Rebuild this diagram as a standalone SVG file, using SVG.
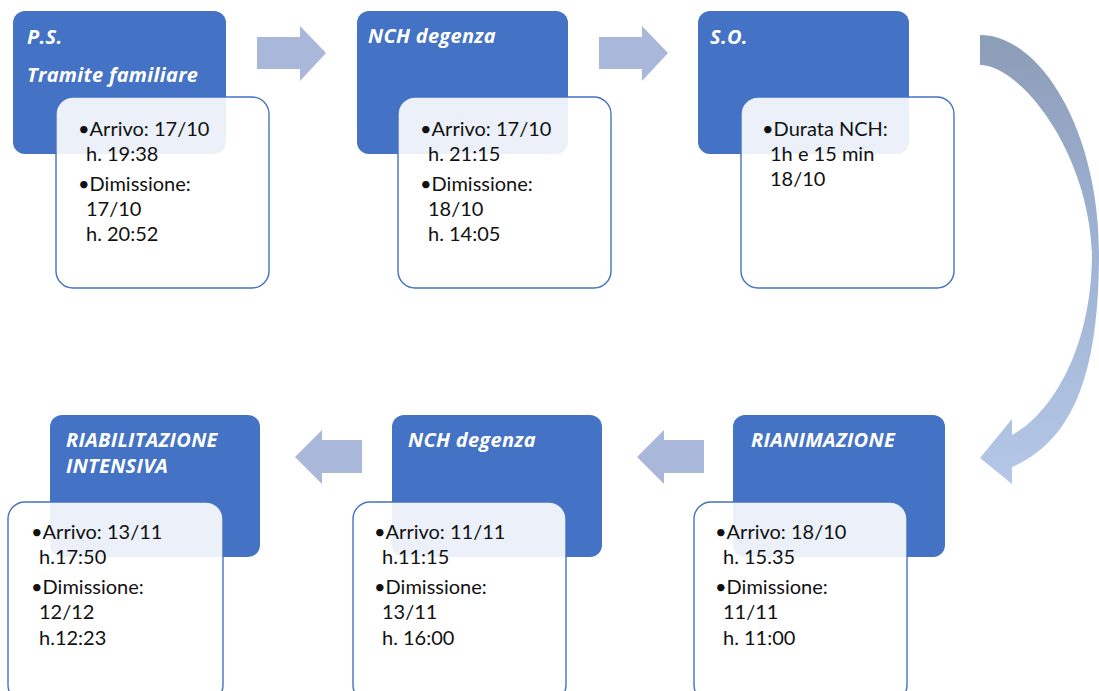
<svg xmlns="http://www.w3.org/2000/svg" width="1099" height="691" viewBox="0 0 1099 691">
<defs>
<style>
.blue{fill:#4472C4}
.card{fill:#fff;fill-opacity:0.9;stroke:#4472C4;stroke-width:1.4}
.title{font-family:"Open Sans",Lato,sans-serif;font-weight:bold;font-style:italic;fill:#fff;font-size:20px;letter-spacing:0.3px}
.body{font-family:Lato,"Open Sans",sans-serif;font-size:20px;fill:#111}
.arrow{fill:#A9B7DB}
</style>
<linearGradient id="cg" x1="0" y1="35" x2="0" y2="484" gradientUnits="userSpaceOnUse">
<stop offset="0" stop-color="#8C9DB7"/>
<stop offset="0.45" stop-color="#9DB1D2"/>
<stop offset="1" stop-color="#B4C7E7"/>
</linearGradient>
</defs>
<rect width="1099" height="691" fill="#fff"/>

<g id="connectors">
<path class="arrow" d="M257,37 H300 V26 L326,53 L300,81 V69 H257 Z"/>
<path class="arrow" d="M599,37 H642 V26 L668,53 L642,81 V69 H599 Z"/>
<path class="arrow" d="M362,440 H322 V430 L295,457 L322,484 V473 H362 Z"/>
<path class="arrow" d="M704,440 H664 V430 L637,457 L664,484 V473 H704 Z"/>
<path fill="url(#cg)" d="M980,35 C1040,35 1099,130 1099,253 C1099,370 1075,440 1012,467 L1012,484 L980,458 L1012,419 L1012,435 C1050,415 1092,350 1092,253 C1088,150 1020,65 980,65 Z"/>
</g>

<g id="node-ps">
<rect class="blue" x="13" y="11" width="213" height="143" rx="12"/>
<text class="title" x="27" y="44">P.S.</text>
<text class="title" x="27" y="82">Tramite familiare</text>
<rect class="card" x="56" y="97" width="213" height="191" rx="17"/>
<text class="body"><tspan x="78" y="136">•Arrivo: 17/10</tspan><tspan x="86" y="161">h. 19:38</tspan><tspan x="78" y="191">•Dimissione:</tspan><tspan x="86" y="216">17/10</tspan><tspan x="86" y="241">h. 20:52</tspan></text>
</g>

<g id="node-nch1">
<rect class="blue" x="357" y="11" width="211" height="143" rx="12"/>
<text class="title" x="368" y="43">NCH degenza</text>
<rect class="card" x="398" y="97" width="213" height="191" rx="17"/>
<text class="body"><tspan x="420" y="136">•Arrivo: 17/10</tspan><tspan x="428" y="161">h. 21:15</tspan><tspan x="420" y="191">•Dimissione:</tspan><tspan x="428" y="216">18/10</tspan><tspan x="428" y="241">h. 14:05</tspan></text>
</g>

<g id="node-so">
<rect class="blue" x="698" y="11" width="211" height="143" rx="12"/>
<text class="title" x="710" y="44">S.O.</text>
<rect class="card" x="741" y="97" width="213" height="191" rx="17"/>
<text class="body"><tspan x="762" y="136">•Durata NCH:</tspan><tspan x="770" y="161">1h e 15 min</tspan><tspan x="770" y="186">18/10</tspan></text>
</g>

<g id="node-rian">
<rect class="blue" x="733" y="415" width="212" height="142" rx="12"/>
<text class="title" x="751" y="447">RIANIMAZIONE</text>
<rect class="card" x="694" y="502" width="213" height="200" rx="17"/>
<text class="body"><tspan x="715" y="539">•Arrivo: 18/10</tspan><tspan x="723" y="564">h. 15.35</tspan><tspan x="715" y="594">•Dimissione:</tspan><tspan x="723" y="619">11/11</tspan><tspan x="723" y="645">h. 11:00</tspan></text>
</g>

<g id="node-nch2">
<rect class="blue" x="392" y="415" width="210" height="142" rx="12"/>
<text class="title" x="408" y="447">NCH degenza</text>
<rect class="card" x="353" y="502" width="213" height="200" rx="17"/>
<text class="body"><tspan x="374" y="539">•Arrivo: 11/11</tspan><tspan x="382" y="564">h.11:15</tspan><tspan x="374" y="594">•Dimissione:</tspan><tspan x="382" y="619">13/11</tspan><tspan x="382" y="645">h. 16:00</tspan></text>
</g>

<g id="node-riab">
<rect class="blue" x="50" y="415" width="210" height="142" rx="12"/>
<text class="title" x="66" y="447">RIABILITAZIONE</text>
<text class="title" x="66" y="473">INTENSIVA</text>
<rect class="card" x="8" y="502" width="215" height="200" rx="17"/>
<text class="body"><tspan x="31" y="539">•Arrivo: 13/11</tspan><tspan x="39" y="564">h.17:50</tspan><tspan x="31" y="594">•Dimissione:</tspan><tspan x="39" y="619">12/12</tspan><tspan x="39" y="645">h.12:23</tspan></text>
</g>
</svg>
